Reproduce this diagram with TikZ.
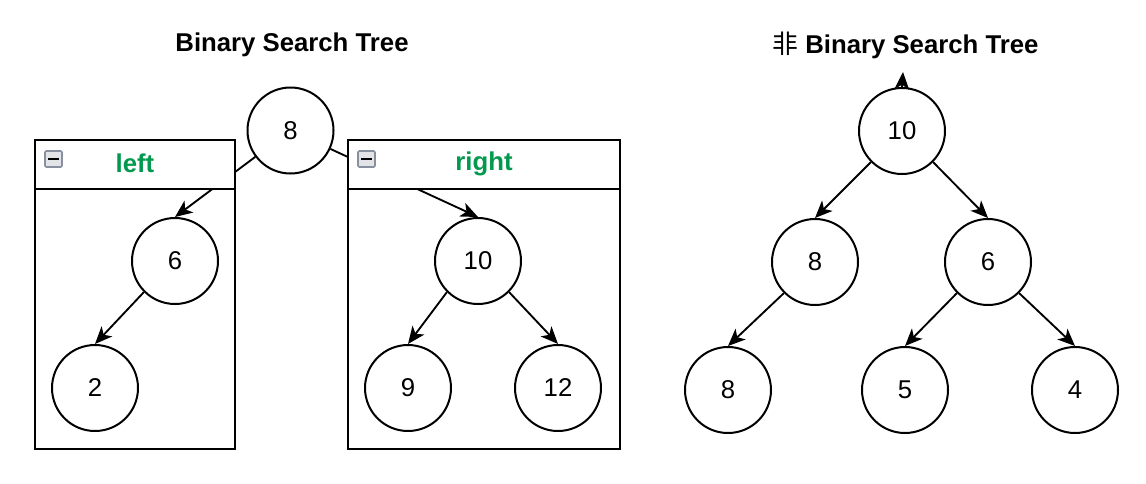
\documentclass[tikz,border=0pt]{standalone}
\usepackage{fontspec}
\setmainfont{Liberation Sans}
\newfontfamily\cjk{Noto Sans CJK SC}
\usetikzlibrary{arrows.meta}
\definecolor{hdrgreen}{RGB}{0,153,77}
\definecolor{iconborder}{RGB}{136,144,160}
\definecolor{iconfill}{RGB}{226,228,232}
\pgfdeclarelayer{bg}
\pgfdeclarelayer{back}
\pgfsetlayers{back,bg,main}
\begin{document}
\begin{tikzpicture}[x=0.75pt,y=-0.75pt,
  every node/.style={font=\fontsize{19.3}{23}\selectfont},
  tnode/.style={circle,draw,line width=1.5pt,minimum size=64.5pt,inner sep=0pt,fill=white},
  edgearrow/.style={line width=1.4pt,-{Stealth[length=13pt,width=11pt,inset=3.5pt]}},
  boxline/.style={draw,line width=1.5pt},
  hdr/.style={font=\fontsize{19.3}{23}\selectfont\bfseries,text=hdrgreen},
  title/.style={font=\fontsize{19.3}{23}\selectfont\bfseries},
  iconbox/.style={draw=iconborder,line width=1.2pt,fill=iconfill,rounded corners=1pt},
  iconbar/.style={line width=2.2pt}]
\useasboundingbox (0,0) rectangle (1146,483);
\begin{pgfonlayer}{back}
\fill[white] (0,0) rectangle (1146,483);
\end{pgfonlayer}

% titles
\node[title] (t1) at (292,45) {Binary Search Tree};
\node[title] (t2) at (905.5,45) {{\normalfont\cjk 非} Binary Search Tree};

% containers
\draw[boxline,fill=white] (35,140) rectangle (235,189);
\draw[boxline] (35,189) rectangle (235,449);
\draw[boxline,fill=white] (348,140) rectangle (620,189);
\draw[boxline] (348,189) rectangle (620,449);
\draw[iconbox] (45,151) rectangle (62,167);
\draw[iconbar] (48,159) -- (59,159);
\draw[iconbox] (358,151) rectangle (375,167);
\draw[iconbar] (361,159) -- (372,159);
\node[hdr] (lh) at (135,163.5) {left};
\node[hdr] (rh) at (484,163.5) {right};

% left tree
\node[tnode] (root) at (290.5,130.5) {8};
\node[tnode] (l6) at (175,261) {6};
\node[tnode] (l2) at (95,388) {2};
\node[tnode] (r10) at (478,261) {10};
\node[tnode] (r9) at (408,388) {9};
\node[tnode] (r12) at (558,388) {12};

% right tree
\node[tnode] (n10) at (902,131) {10};
\node[tnode] (n8a) at (815,262) {8};
\node[tnode] (n6) at (988,262) {6};
\node[tnode] (n8b) at (728,390) {8};
\node[tnode] (n5) at (905,390) {5};
\node[tnode] (n4) at (1075,390) {4};
\coordinate (stray) at (903,72);

\begin{pgfonlayer}{bg}
\draw[edgearrow] (root) -- (l6.north);
\draw[edgearrow] (root) -- (r10.north);
\end{pgfonlayer}
\draw[edgearrow] (l6.south west) -- (l2.north);
\draw[edgearrow] (r10.south west) -- (r9.north);
\draw[edgearrow] (r10.south east) -- (r12.north);

\draw[edgearrow] (n10.south west) -- (n8a.north);
\draw[edgearrow] (n10.south east) -- (n6.north);
\draw[edgearrow] (n8a.south west) -- (n8b.north);
\draw[edgearrow] (n6.south west) -- (n5.north);
\draw[edgearrow] (n6.south east) -- (n4.north);
\draw[edgearrow] (n10.north) -- (stray);
\end{tikzpicture}
\end{document}
